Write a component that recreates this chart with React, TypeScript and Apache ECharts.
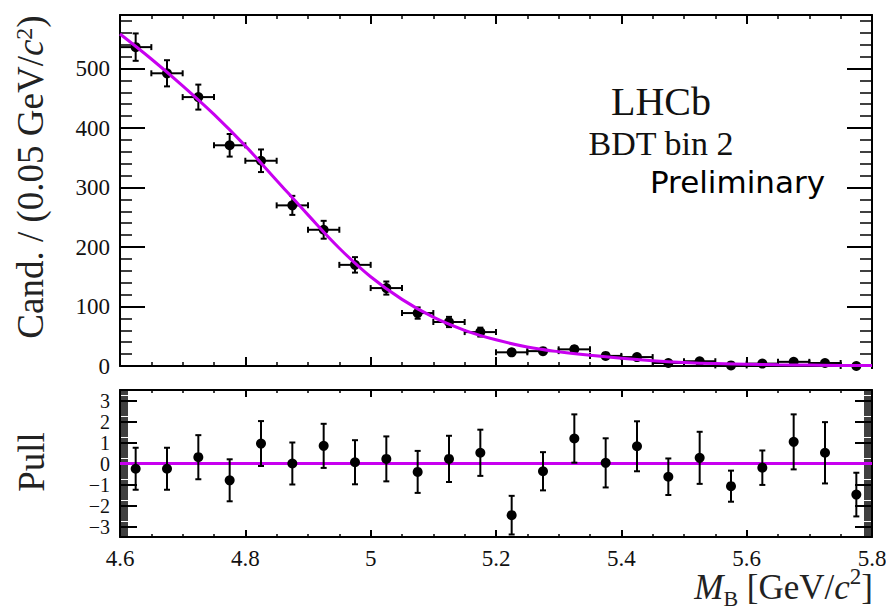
import React, { useEffect, useRef } from "react";
import * as echarts from "echarts";

// ---- data ----
const binCenters = [4.625, 4.675, 4.725, 4.775, 4.825, 4.875, 4.925, 4.975, 5.025, 5.075, 5.125, 5.175, 5.225, 5.275, 5.325, 5.375, 5.425, 5.475, 5.525, 5.575, 5.625, 5.675, 5.725, 5.775];
const counts = [536, 492, 452, 371, 345, 270, 229, 170, 131, 89, 74, 57, 23, 25, 28, 17, 15, 5, 8, 1, 4, 7, 5, 0];
const countErrors = [23, 22, 21, 19, 19, 16, 15, 13, 11, 9.5, 8.6, 7.5, 4.8, 5, 5.3, 4.1, 3.9, 2.2, 2.8, 1, 2, 2.6, 2.2, 0];
const binHalfWidth = 0.025;

const fitX = [4.6, 4.65, 4.7, 4.75, 4.8, 4.85, 4.9, 4.95, 5.0, 5.05, 5.1, 5.15, 5.2, 5.25, 5.3, 5.35, 5.4, 5.45, 5.5, 5.55, 5.6, 5.65, 5.7, 5.75, 5.8];
const fitY = [558, 516, 471, 423, 370, 312, 254, 198, 150, 112, 82, 60, 44, 32, 24, 18, 13, 9, 6, 4, 3, 2, 1.5, 1, 1];

const pulls = [-0.25, -0.25, 0.3, -0.8, 0.95, 0, 0.84, 0.06, 0.22, -0.4, 0.22, 0.51, -2.46, -0.37, 1.19, 0.03, 0.82, -0.63, 0.27, -1.08, -0.2, 1.03, 0.51, -1.48];
const pullErrors = [1, 1, 1.05, 1, 1.07, 1, 1.05, 1.05, 1.07, 1, 1.1, 1.1, 0.92, 0.91, 1.15, 1.17, 1.19, 0.87, 1.24, 0.74, 0.82, 1.31, 1.46, 1.04];

const xRange = [4.6, 5.8];
const yRangeTop = [0, 590];
const yRangePull = [-3.5, 3.5];

const MAGENTA = "#c800f0";
const SERIF = "'Liberation Serif', 'Times New Roman', serif";

export default function App() {
  const ref = useRef<HTMLDivElement>(null);

  useEffect(() => {
    if (!ref.current) return;
    const chart = echarts.init(ref.current, null, { renderer: "svg" });

    const lineStyle = { color: "#000", width: 2 };

    const labelRich = (fontSize: number) => ({
      t: { fontFamily: SERIF, fontSize, color: "#111", fill: "#111" },
    });
    const fmt = (v: number) => `{t|${v < 0 ? "\u2212" + Math.abs(v) : String(v)}}`;

    const xAxisCommon = (gridIndex: number, position: string, showLabel: boolean, tickLen: number, minorLen: number) => ({
      type: "value",
      gridIndex,
      position,
      min: xRange[0],
      max: xRange[1],
      interval: 0.2,
      axisLine: { show: true, onZero: false, lineStyle },
      axisTick: { show: true, inside: true, length: tickLen, lineStyle: { color: "#000", width: 2 } },
      minorTick: { show: true, splitNumber: 4, length: minorLen, lineStyle: { color: "#000", width: 1.5 } },
      splitLine: { show: false },
      minorSplitLine: { show: false },
      axisLabel: {
        show: showLabel,
        color: "#111",
        fontFamily: SERIF,
        fontSize: 23,
        margin: 10,
        showMinLabel: true,
        showMaxLabel: true,
        hideOverlap: false,
        formatter: fmt,
        rich: labelRich(23),
      },
    });

    const yAxisCommon = (gridIndex: number, position: string, showLabel: boolean, range: number[], splitNumber: number, tickLen: number, minor: number, minorLen: number, hideMin: boolean, fontSize: number) => ({
      type: "value",
      gridIndex,
      position,
      min: range[0],
      max: range[1],
      splitNumber,
      axisLine: { show: true, onZero: false, lineStyle },
      axisTick: { show: true, inside: true, length: tickLen, lineStyle: { color: "#000", width: 2 } },
      minorTick: { show: true, splitNumber: minor, length: minorLen, lineStyle: { color: "#000", width: 1.5 } },
      splitLine: { show: false },
      minorSplitLine: { show: false },
      axisLabel: {
        show: showLabel,
        color: "#111",
        fontFamily: SERIF,
        fontSize,
        margin: 10,
        showMaxLabel: false,
        showMinLabel: !hideMin,
        hideOverlap: false,
        formatter: fmt,
        rich: labelRich(fontSize),
      },
    });

    const topErrData = binCenters.map((x, i) => [x, counts[i], countErrors[i], binHalfWidth]);
    const topPoints = binCenters.map((x, i) => [x, counts[i]]);
    const fitData = fitX.map((x, i) => [x, fitY[i]]);
    const pullErrData = binCenters.map((x, i) => [x, pulls[i], pullErrors[i]]);
    const pullPoints = binCenters.map((x, i) => [x, pulls[i]]);

    const seg = (x1: number, y1: number, x2: number, y2: number) => ({
      type: "line",
      shape: { x1, y1, x2, y2 },
      style: { stroke: "#000", lineWidth: 2 },
    });

    const cap = 3;

    const option: any = {
      animation: false,
      backgroundColor: "#fff",
      textStyle: { fontFamily: SERIF },
      grid: [
        { left: 120, top: 15, width: 752, height: 351, containLabel: false, outerBoundsMode: "none" },
        { left: 120, top: 390, width: 752, height: 147, containLabel: false, outerBoundsMode: "none" },
      ],
      xAxis: [
        xAxisCommon(0, "bottom", false, 9, 4),
        xAxisCommon(0, "top", false, 9, 4),
        xAxisCommon(1, "bottom", true, 7, 3),
        xAxisCommon(1, "top", false, 7, 3),
      ],
      yAxis: [
        yAxisCommon(0, "left", true, yRangeTop, 6, 25, 5, 12, false, 23),
        yAxisCommon(0, "right", false, yRangeTop, 6, 25, 5, 12, false, 23),
        yAxisCommon(1, "left", true, yRangePull, 7, 17, 10, 8, true, 20),
        yAxisCommon(1, "right", false, yRangePull, 7, 17, 10, 8, true, 20),
      ],
      series: [
        {
          type: "custom",
          xAxisIndex: 0,
          yAxisIndex: 0,
          data: topErrData,
          encode: { x: 0, y: 1 },
          z: 3,
          renderItem: (params: any, api: any) => {
            const x = api.value(0);
            const y = api.value(1);
            const e = api.value(2);
            const h = api.value(3);
            const l = api.coord([x - h, y]);
            const r = api.coord([x + h, y]);
            const children: any[] = [
              seg(l[0], l[1], r[0], r[1]),
              seg(l[0], l[1] - cap, l[0], l[1] + cap),
              seg(r[0], r[1] - cap, r[0], r[1] + cap),
            ];
            if (e > 0) {
              const t = api.coord([x, y + e]);
              const b = api.coord([x, y - e]);
              children.push(seg(t[0], t[1], b[0], b[1]));
              children.push(seg(t[0] - cap, t[1], t[0] + cap, t[1]));
              children.push(seg(b[0] - cap, b[1], b[0] + cap, b[1]));
            }
            return { type: "group", children };
          },
        },
        {
          type: "scatter",
          xAxisIndex: 0,
          yAxisIndex: 0,
          data: topPoints,
          symbol: "circle",
          symbolSize: 10,
          itemStyle: { color: "#000", opacity: 1 },
          z: 4,
        },
        {
          type: "line",
          xAxisIndex: 0,
          yAxisIndex: 0,
          data: fitData,
          smooth: 0.4,
          showSymbol: false,
          symbol: "none",
          lineStyle: { color: MAGENTA, width: 3 },
          z: 5,
        },
        {
          type: "line",
          xAxisIndex: 2,
          yAxisIndex: 2,
          data: [[xRange[0], 0], [xRange[1], 0]],
          showSymbol: false,
          symbol: "none",
          lineStyle: { color: MAGENTA, width: 3 },
          z: 2,
        },
        {
          type: "custom",
          xAxisIndex: 2,
          yAxisIndex: 2,
          data: pullErrData,
          encode: { x: 0, y: 1 },
          z: 3,
          renderItem: (params: any, api: any) => {
            const x = api.value(0);
            const y = api.value(1);
            const e = api.value(2);
            const t = api.coord([x, y + e]);
            const b = api.coord([x, y - e]);
            return {
              type: "group",
              children: [
                seg(t[0], t[1], b[0], b[1]),
                seg(t[0] - cap, t[1], t[0] + cap, t[1]),
                seg(b[0] - cap, b[1], b[0] + cap, b[1]),
              ],
            };
          },
        },
        {
          type: "scatter",
          xAxisIndex: 2,
          yAxisIndex: 2,
          data: pullPoints,
          symbol: "circle",
          symbolSize: 10,
          itemStyle: { color: "#000", opacity: 1 },
          z: 4,
        },
      ],
      graphic: [
        {
          type: "text",
          x: 661,
          y: 101,
          style: { text: "LHCb", font: `40px ${SERIF}`, fill: "#111", textAlign: "center", textVerticalAlign: "middle" },
        },
        {
          type: "text",
          x: 661,
          y: 143,
          style: { text: "BDT bin 2", font: `34px ${SERIF}`, fill: "#111", textAlign: "center", textVerticalAlign: "middle" },
        },
        {
          type: "text",
          x: 825,
          y: 182,
          style: { text: "Preliminary", font: "31px 'DejaVu Sans', sans-serif", fill: "#000", textAlign: "right", textVerticalAlign: "middle" },
        },
        {
          type: "text",
          x: 30,
          y: 177,
          rotation: Math.PI / 2,
          style: {
            text: "Cand. / (0.05 GeV/{i|c}{s|2})",
            font: `37px ${SERIF}`,
            fill: "#222",
            textAlign: "center",
            textVerticalAlign: "middle",
            rich: {
              i: { fontFamily: SERIF, fontSize: 37, fontStyle: "italic", fill: "#222" },
              s: { fontFamily: SERIF, fontSize: 24, verticalAlign: "top", fill: "#222" },
            },
          },
        },
        {
          type: "text",
          x: 31,
          y: 462,
          rotation: Math.PI / 2,
          style: { text: "Pull", font: `37px ${SERIF}`, fill: "#222", textAlign: "center", textVerticalAlign: "middle" },
        },
        {
          type: "text",
          x: 873,
          y: 587,
          style: {
            text: "{m|M}{b|B} [GeV/{i|c}{s|2}]",
            font: `35px ${SERIF}`,
            fill: "#222",
            textAlign: "right",
            textVerticalAlign: "middle",
            rich: {
              m: { fontFamily: SERIF, fontSize: 35, fontStyle: "italic", fill: "#222" },
              b: { fontFamily: SERIF, fontSize: 22, verticalAlign: "bottom", lineHeight: 44, fill: "#222" },
              i: { fontFamily: SERIF, fontSize: 35, fontStyle: "italic", fill: "#222" },
              s: { fontFamily: SERIF, fontSize: 23, verticalAlign: "top", fill: "#222" },
            },
          },
        },
      ],
    };

    chart.setOption(option);
    return () => chart.dispose();
  }, []);

  return (
    <div
      ref={ref}
      style={{ position: "absolute", left: 0, top: 0, width: 886, height: 607, background: "#fff" }}
    />
  );
}
